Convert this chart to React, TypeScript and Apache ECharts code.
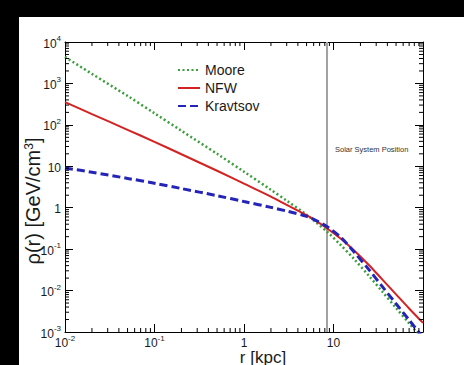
import { useEffect, useRef } from 'react';
import * as echarts from 'echarts';

const FONT = '"Liberation Sans", Arial, Helvetica, sans-serif';

// Galactocentric radius r [kpc]
const radius = [0.01, 0.02, 0.05, 0.1, 0.2, 0.5, 1, 2, 3, 5, 6.5, 8.5, 12, 17, 25, 35, 50, 70, 100];

// Dark-matter density rho(r) [GeV/cm^3] for each halo profile
const moore = [4365, 1700, 500, 190, 72, 20, 7.4, 2.7, 1.48, 0.68, 0.427, 0.263, 0.126, 0.0575, 0.0224, 0.0095, 0.0038, 0.00162, 0.00066];
const nfw = [355, 182, 76, 39, 19.5, 7.8, 3.8, 1.86, 1.17, 0.66, 0.468, 0.316, 0.18, 0.093, 0.041, 0.0186, 0.0081, 0.0037, 0.00166];
const kravtsov = [9.1, 7.2, 5.1, 3.9, 2.9, 1.95, 1.41, 1.02, 0.83, 0.62, 0.48, 0.347, 0.195, 0.085, 0.0316, 0.0126, 0.0048, 0.00195, 0.00072];

const profileNames = ['Moore', 'NFW', 'Kravtsov'];
const profileColors = ['#3a9e3a', '#d42222', '#2424b8'];

const SOLAR_RADIUS = 8.5;
const SOLAR_LABEL = 'Solar System Position';

const R_MIN = 0.01;
const R_MAX = 100;
const RHO_MIN = 0.001;
const RHO_MAX = 10000;

// 2..9 x 10^d sub-decade tick values between two decades
function minorLogTicks(fromExp: number, toExp: number): number[] {
  const out: number[] = [];
  for (let d = fromExp; d < toExp; d++) {
    for (let k = 2; k <= 9; k++) out.push(k * Math.pow(10, d));
  }
  return out;
}
const minorR = minorLogTicks(-2, 2);
const minorRho = minorLogTicks(-3, 4);

const labelRich = {
  b: { fontSize: 12, fontFamily: FONT, color: '#1a1a1a', lineHeight: 15, verticalAlign: 'bottom' },
  s: { fontSize: 8, fontFamily: FONT, color: '#1a1a1a', lineHeight: 9, verticalAlign: 'top' },
};

function decadeLabel(v: number, maxExp: number): string {
  const e = Math.round(Math.log10(v));
  if (e >= maxExp) return '';
  if (e === 0) return '{b|1}';
  if (e === 1) return '{b|10}';
  return `{b|10}{s|${e}}`;
}

const black = { color: '#000', width: 1 };
const MINOR_LEN = 4;

function tickLine(x1: number, y1: number, x2: number, y2: number) {
  return { type: 'line', shape: { x1, y1, x2, y2 }, style: { stroke: '#000', lineWidth: 1 } };
}

export default function App() {
  const ref = useRef<HTMLDivElement>(null);

  useEffect(() => {
    const chart = echarts.init(ref.current!, undefined, { renderer: 'svg' });
    const pair = (ys: number[]) => radius.map((r, i) => [r, ys[i]]);

    const majorLog = (position: string, labels: boolean, isX: boolean) => ({
      type: 'log',
      logBase: 10,
      min: isX ? R_MIN : RHO_MIN,
      max: isX ? R_MAX : RHO_MAX,
      position,
      axisLine: { show: true, onZero: false, lineStyle: black },
      axisTick: { show: true, inside: true, length: 8, lineStyle: black },
      axisLabel: labels
        ? {
            show: true,
            margin: isX ? 2 : 4,
            formatter: (v: number) => decadeLabel(v, isX ? 2 : 5),
            rich: labelRich,
          }
        : { show: false },
      splitLine: { show: false },
      minorTick: { show: false },
    });

    const dash: any[] = [[2, 2.5], 'solid', [8, 4]];
    const widths = [2.5, 2, 3];
    const seriesData = [moore, nfw, kravtsov];

    const series: any[] = profileNames.map((name, i) => ({
      name,
      type: 'line',
      xAxisIndex: 0,
      yAxisIndex: 0,
      data: pair(seriesData[i]),
      symbol: 'none',
      smooth: 0.3,
      silent: true,
      itemStyle: { color: profileColors[i] },
      lineStyle: { color: profileColors[i], width: widths[i], type: dash[i], cap: 'butt' },
      z: 3 + i,
    }));

    series[1].markLine = {
      silent: true,
      symbol: ['none', 'none'],
      z: 1,
      label: { show: false },
      lineStyle: { color: '#a3a3a3', width: 2, type: 'solid' },
      data: [{ xAxis: SOLAR_RADIUS }],
    };

    // Sub-decade ticks on the bottom/top frame edges
    series.push({
      type: 'custom',
      xAxisIndex: 0,
      yAxisIndex: 0,
      silent: true,
      z: 10,
      data: minorR.map((v) => [v, RHO_MIN]),
      renderItem: (_p: any, api: any) => {
        const v = api.value(0);
        const b = api.coord([v, RHO_MIN]);
        const t = api.coord([v, RHO_MAX]);
        return {
          type: 'group',
          children: [
            tickLine(b[0], b[1], b[0], b[1] - MINOR_LEN),
            tickLine(t[0], t[1], t[0], t[1] + MINOR_LEN),
          ],
        };
      },
    });

    // Sub-decade ticks on the left/right frame edges
    series.push({
      type: 'custom',
      xAxisIndex: 0,
      yAxisIndex: 0,
      silent: true,
      z: 10,
      data: minorRho.map((v) => [R_MIN, v]),
      renderItem: (_p: any, api: any) => {
        const v = api.value(1);
        const l = api.coord([R_MIN, v]);
        const r = api.coord([R_MAX, v]);
        return {
          type: 'group',
          children: [
            tickLine(l[0], l[1], l[0] + MINOR_LEN, l[1]),
            tickLine(r[0], r[1], r[0] - MINOR_LEN, r[1]),
          ],
        };
      },
    });

    chart.setOption({
      animation: false,
      backgroundColor: '#fff',
      grid: { left: 65, right: 41, top: 42, bottom: 33, containLabel: false, outerBoundsMode: 'none' },
      xAxis: [majorLog('bottom', true, true), majorLog('top', false, true)],
      yAxis: [majorLog('left', true, false), majorLog('right', false, false)],
      legend: {
        data: profileNames,
        orient: 'vertical',
        left: 177,
        top: 63,
        padding: 0,
        itemWidth: 22,
        itemHeight: 14,
        itemGap: 4,
        selectedMode: false,
        itemStyle: { opacity: 0 },
        textStyle: { fontSize: 14, fontFamily: FONT, color: '#1a1a1a' },
      },
      series,
      graphic: [
        { type: 'rect', shape: { x: 0, y: 0, width: 464, height: 17 }, style: { fill: '#000' }, silent: true },
        { type: 'rect', shape: { x: 0, y: 0, width: 19, height: 365 }, style: { fill: '#000' }, silent: true },
        {
          type: 'text',
          x: 33,
          y: 201,
          rotation: Math.PI / 2,
          silent: true,
          style: {
            text: 'ρ(r) [GeV/cm{s|3}]',
            fontSize: 20,
            fontFamily: FONT,
            fill: '#1a1a1a',
            align: 'center',
            verticalAlign: 'middle',
            rich: {
              s: { fontSize: 12, fontFamily: FONT, fill: '#1a1a1a', verticalAlign: 'top', lineHeight: 11 },
            },
          },
        },
        {
          type: 'text',
          x: 263,
          y: 357,
          silent: true,
          style: {
            text: 'r [kpc]',
            fontSize: 17,
            fontFamily: FONT,
            fill: '#1a1a1a',
            align: 'center',
            verticalAlign: 'middle',
          },
        },
        {
          type: 'text',
          x: 335,
          y: 149,
          silent: true,
          style: {
            text: SOLAR_LABEL,
            fontSize: 7.5,
            fontFamily: FONT,
            fill: '#333',
            align: 'left',
            verticalAlign: 'middle',
          },
        },
      ],
    });

    return () => chart.dispose();
  }, []);

  return (
    <div
      ref={ref}
      style={{ position: 'fixed', left: 0, top: 0, width: 464, height: 365, background: '#fff' }}
    />
  );
}
